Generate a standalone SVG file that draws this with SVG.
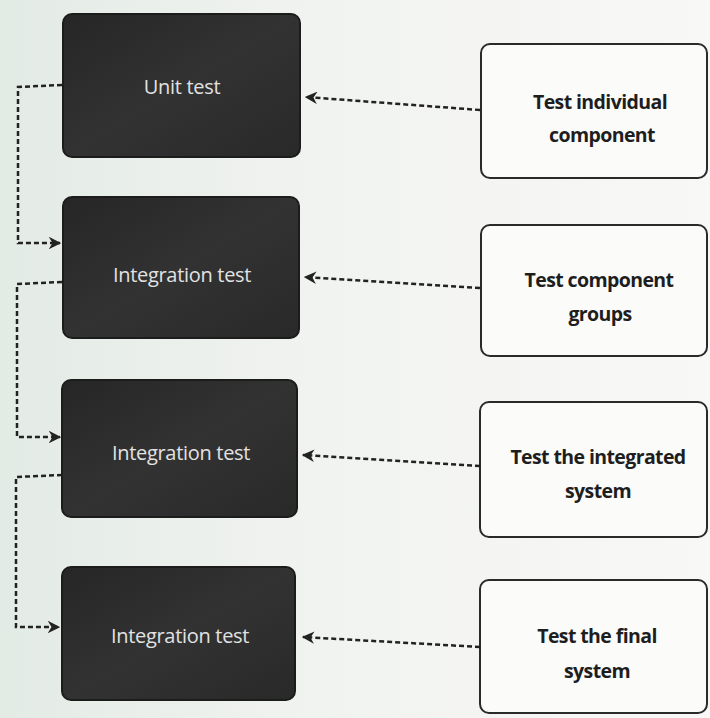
<svg xmlns="http://www.w3.org/2000/svg" width="710" height="718" viewBox="0 0 710 718">
<defs>
<linearGradient id="bg" x1="0" y1="0" x2="1" y2="0">
<stop offset="0" stop-color="#e3ebe5"/>
<stop offset="0.45" stop-color="#f1f3f0"/>
<stop offset="1" stop-color="#f8f8f6"/>
</linearGradient>
<linearGradient id="dark" x1="0" y1="0" x2="1" y2="1">
<stop offset="0" stop-color="#262626"/>
<stop offset="0.5" stop-color="#323232"/>
<stop offset="1" stop-color="#292929"/>
</linearGradient>
<marker id="ah" viewBox="0 0 10 10" refX="9" refY="5" markerWidth="5" markerHeight="5" orient="auto-start-reverse" markerUnits="strokeWidth">
<path d="M0,0 L10,5 L0,10 L3,5 z" fill="#222"/>
</marker>
<style>
.dark{fill:url(#dark);stroke:#1c1c1c;stroke-width:2}
.light{fill:#fbfbfa;stroke:#2a2a2a;stroke-width:2}
.dt{font-family:"Open Sans","Noto Sans",sans-serif;font-size:20px;fill:#e2e2e2;text-anchor:middle;letter-spacing:-0.3px}
.lt{font-family:"Open Sans","Noto Sans",sans-serif;font-weight:700;font-size:19.5px;fill:#1e1e1e;text-anchor:middle;letter-spacing:-0.6px}
.con{fill:none;stroke:#222;stroke-width:2.5;stroke-dasharray:5 3}
</style>
</defs>
<rect width="710" height="718" fill="url(#bg)"/>
<g id="unit-test">
<rect class="dark" x="63" y="14" width="237" height="143" rx="9"/>
<text class="dt" x="182" y="94">Unit test</text>
</g>
<g id="integration-test-1">
<rect class="dark" x="63" y="197" width="236" height="141" rx="9"/>
<text class="dt" x="182" y="282">Integration test</text>
</g>
<g id="integration-test-2">
<rect class="dark" x="62" y="380" width="235" height="137" rx="9"/>
<text class="dt" x="181" y="460">Integration test</text>
</g>
<g id="integration-test-3">
<rect class="dark" x="62" y="567" width="233" height="133" rx="9"/>
<text class="dt" x="180" y="643">Integration test</text>
</g>
<g id="test-individual">
<rect class="light" x="481" y="44" width="226" height="134" rx="9"/>
<text class="lt" x="600" y="109">Test individual</text>
<text class="lt" x="602" y="142">component</text>
</g>
<g id="test-groups">
<rect class="light" x="481" y="225" width="226" height="131" rx="9"/>
<text class="lt" x="599" y="287">Test component</text>
<text class="lt" x="600" y="321">groups</text>
</g>
<g id="test-integrated">
<rect class="light" x="480" y="402" width="227" height="135" rx="9"/>
<text class="lt" x="598" y="464">Test the integrated</text>
<text class="lt" x="598" y="498">system</text>
</g>
<g id="test-final">
<rect class="light" x="480" y="580" width="227" height="133" rx="9"/>
<text class="lt" x="597" y="643">Test the final</text>
<text class="lt" x="597" y="678">system</text>
</g>
<g id="connectors">
<path class="con" d="M62,85 L18,87 L18,243 L60,243" marker-end="url(#ah)"/>
<path class="con" d="M62,282 L17,284 L17,437 L60,437" marker-end="url(#ah)"/>
<path class="con" d="M62,475 L16,477 L16,627 L59,627" marker-end="url(#ah)"/>
<path class="con" d="M480,110 L306,97" marker-end="url(#ah)"/>
<path class="con" d="M480,288 L305,277" marker-end="url(#ah)"/>
<path class="con" d="M480,466 L303,455" marker-end="url(#ah)"/>
<path class="con" d="M480,647 L303,637" marker-end="url(#ah)"/>
</g>
</svg>
